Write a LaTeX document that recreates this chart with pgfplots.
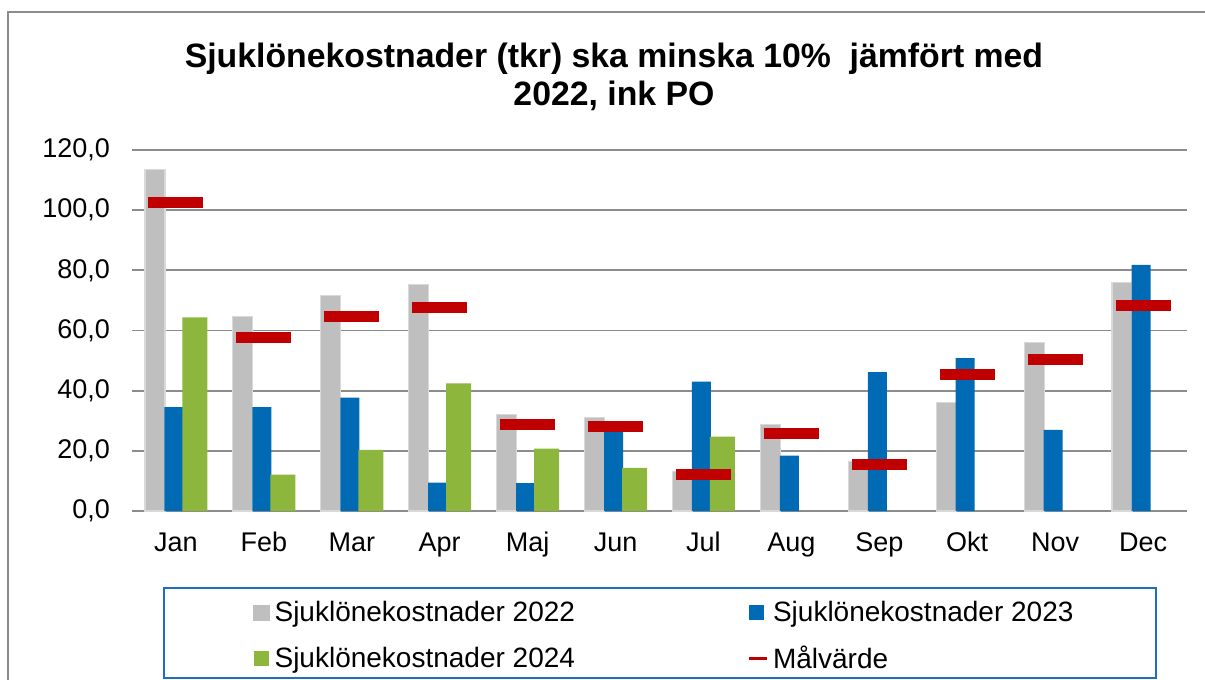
\documentclass[border=0pt]{standalone}
\usepackage{pgfplots}
\pgfplotsset{compat=1.18}
\usepackage{fontspec}
\setmainfont{Liberation Sans}

\definecolor{c22}{HTML}{BFBFBF}
\definecolor{c22edge}{HTML}{D9D9D9}
\definecolor{c23}{HTML}{006AB4}
\definecolor{c24}{HTML}{8DB63C}
\definecolor{cmal}{HTML}{C00000}
\definecolor{gridgray}{HTML}{8C8C8C}
\definecolor{legblue}{HTML}{1F6FBF}

\begin{document}
\begin{tikzpicture}
\useasboundingbox (-66pt,-84.5pt) rectangle (536.5pt,255.5pt);
% outer chart frame (cropped screenshot: top and left edge only)
\draw[gridgray, line width=1pt] (-62pt,-84.5pt) -- (-62pt,249.5pt) -- (536.5pt,249.5pt);

\begin{axis}[
  at={(0pt,0pt)}, anchor=south west,
  scale only axis, width=527.5pt, height=180.5pt,
  xmin=-0.5, xmax=11.5, ymin=0, ymax=120,
  xtick={0,...,11},
  xticklabels={Jan,Feb,Mar,Apr,Maj,Jun,Jul,Aug,Sep,Okt,Nov,Dec},
  ytick={0,20,...,120},
  ymajorgrids=true, grid style={gridgray, line width=0.9pt},
  axis line style={draw=none},
  tick style={draw=none},
  /pgf/number format/fixed,
  /pgf/number format/fixed zerofill,
  /pgf/number format/precision=1,
  /pgf/number format/use comma,
  /pgf/number format/assume math mode=true,
  ticklabel style={font=\fontsize{13.5}{16}\selectfont},
  yticklabel style={xshift=-7.5pt},
  xticklabel style={text height=9.7pt, text depth=3pt, yshift=-7pt},
  legend columns=2,
  legend cell align=left,
  legend style={draw=none, fill=none, inner sep=0pt,
                font=\fontsize{14}{16.5}\selectfont,
                at={(0.1147,-0.238)}, anchor=north west,
                row sep=6.5pt,
                /tikz/every odd column/.append style={column sep=0.5pt},
                /tikz/every even column/.append style={column sep=84pt}},
]
\addplot[ybar, bar width=10pt, bar shift=-10.5pt, fill=c22, draw=c22edge, line width=0.6pt,
  legend image code/.code={\fill[c22] (0pt,-3.75pt) rectangle (7.5pt,3.75pt);}]
  coordinates {(0,113.6) (1,64.6) (2,71.6) (3,75.4) (4,32.1) (5,31.0)
               (6,13.0) (7,28.8) (8,16.5) (9,36.0) (10,56.0) (11,76.0)};
\addlegendentry{Sjuklönekostnader 2022}
\addplot[ybar, bar width=9.5pt, bar shift=-1pt, fill=c23, draw=none,
  legend image code/.code={\fill[c23] (0pt,-3.75pt) rectangle (7.5pt,3.75pt);}]
  coordinates {(0,34.5) (1,34.5) (2,37.7) (3,9.4) (4,9.3) (5,28.5)
               (6,43.0) (7,18.4) (8,46.2) (9,50.8) (10,27.0) (11,81.8)};
\addlegendentry{Sjuklönekostnader 2023}
\addplot[ybar, bar width=12.5pt, bar shift=9.5pt, fill=c24, draw=none,
  legend image code/.code={\fill[c24] (0pt,-3.75pt) rectangle (7.5pt,3.75pt);}]
  coordinates {(0,64.4) (1,12.1) (2,20.3) (3,42.4) (4,20.7) (5,14.3) (6,24.7)};
\addlegendentry{Sjuklönekostnader 2024}
\addplot[only marks, mark=-, mark size=13.75pt, cmal,
  mark options={line width=5.5pt, line cap=butt},
  legend image code/.code={\draw[cmal, line width=1.5pt] (0pt,0pt) -- (9pt,0pt);}]
  coordinates {(0,102.5) (1,57.8) (2,64.6) (3,67.8) (4,28.6) (5,28.0)
               (6,12.1) (7,25.8) (8,15.3) (9,45.4) (10,50.4) (11,68.3)};
\addlegendentry{Målvärde}
\end{axis}

% legend frame
\draw[legblue, line width=1pt] (16pt,-38.5pt) rectangle (512pt,-83.5pt);

% title
\node[font=\fontsize{16.9}{19}\selectfont\bfseries, anchor=base] at (241pt,221.5pt)
  {Sjuklönekostnader (tkr) ska minska 10\%\ \ jämfört med};
\node[font=\fontsize{16.9}{19}\selectfont\bfseries, anchor=base] at (241pt,202.5pt)
  {2022, ink PO};
\end{tikzpicture}
\end{document}
